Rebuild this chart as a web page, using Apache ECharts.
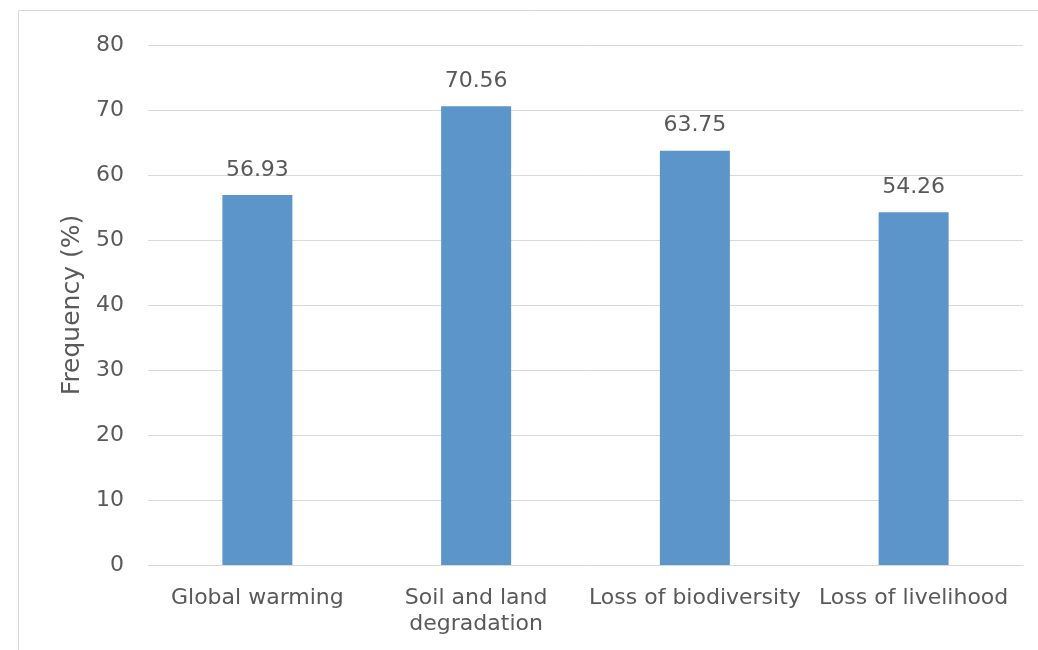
<!DOCTYPE html>
<html>
<head>
<meta charset="utf-8">
<script src="https://cdn.jsdelivr.net/npm/echarts@6/dist/echarts.min.js"></script>
<style>
  html, body { margin: 0; padding: 0; background: #ffffff; }
  #chart { width: 1038px; height: 650px; }
</style>
</head>
<body>
<div id="chart"></div>
<script>
// Environmental impacts and how often respondents cited them
const categories = ['Global warming', 'Soil and land\ndegradation', 'Loss of biodiversity', 'Loss of livelihood'];
const frequency = [56.93, 70.56, 63.75, 54.26];
const yTicks = { min: 0, max: 80, interval: 10 };

const textColor = '#595959';
const gridColor = '#d9d9d9';
const fontFamily = '"DejaVu Sans", sans-serif';

const chart = echarts.init(document.getElementById('chart'), null, { renderer: 'canvas' });

chart.setOption({
  backgroundColor: '#ffffff',
  animation: false,
  graphic: [{
    type: 'rect',
    z: -10,
    shape: { x: 18.5, y: 10.5, width: 1100, height: 700 },
    style: { fill: 'none', stroke: gridColor, lineWidth: 1 }
  }],
  grid: { left: 148, right: 15, top: 45, bottom: 85, containLabel: false },
  xAxis: {
    type: 'category',
    data: categories,
    axisLine: { show: true, lineStyle: { color: gridColor, width: 1 } },
    axisTick: { show: false },
    axisLabel: {
      color: textColor,
      fontFamily: fontFamily,
      fontSize: 22,
      lineHeight: 26,
      margin: 20,
      interval: 0
    }
  },
  yAxis: {
    type: 'value',
    min: yTicks.min,
    max: yTicks.max,
    interval: yTicks.interval,
    name: 'Frequency (%)',
    nameLocation: 'middle',
    nameGap: 52,
    nameTextStyle: { color: textColor, fontFamily: fontFamily, fontSize: 25 },
    axisLine: { show: false },
    axisTick: { show: false },
    axisLabel: { color: textColor, fontFamily: fontFamily, fontSize: 22, margin: 24 },
    splitLine: { lineStyle: { color: gridColor, width: 1 } }
  },
  series: [{
    type: 'bar',
    data: frequency,
    barWidth: '32%',
    itemStyle: { color: '#5B95C9' },
    label: {
      show: true,
      position: 'top',
      distance: 14,
      color: textColor,
      fontFamily: fontFamily,
      fontSize: 22,
      formatter: p => p.value.toFixed(2)
    }
  }]
});
</script>
</body>
</html>
